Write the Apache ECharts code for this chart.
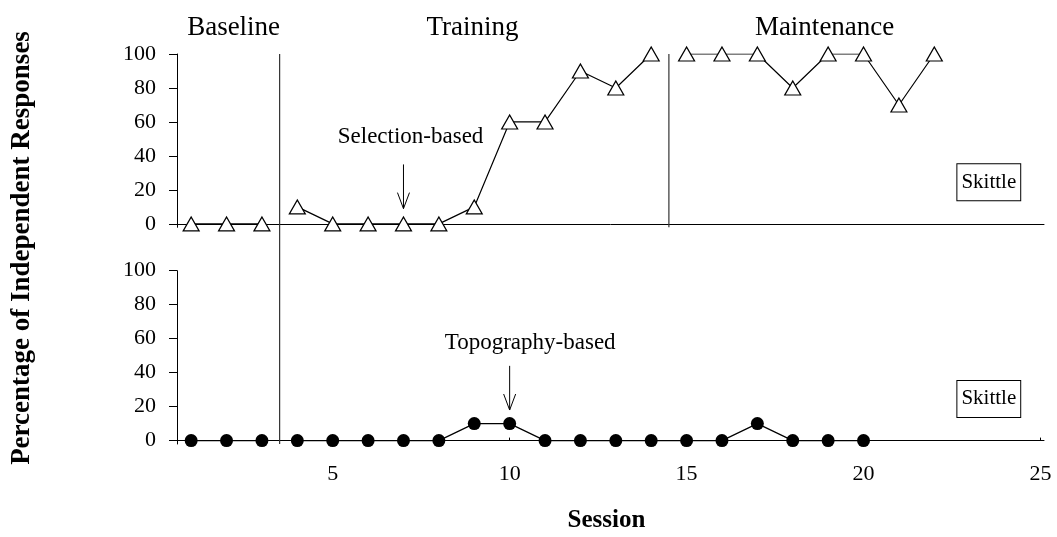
<!DOCTYPE html>
<html><head><meta charset="utf-8">
<script src="https://cdn.jsdelivr.net/npm/echarts@6/dist/echarts.min.js"></script>
<style>html,body{margin:0;padding:0;background:#fff}#c{width:1057px;height:537px}</style>
</head><body><div id="c"></div>
<script>
// ---- data ----
const sessions = [1,2,3,4,5,6,7,8,9,10,11,12,13,14,15,16,17,18,19,20,21,22];
const selection = [0,0,0,10,0,0,0,0,10,60,60,90,80,100,100,100,100,80,100,100,70,100];
const topography = [0,0,0,0,0,0,0,0,10,10,0,0,0,0,0,0,10,0,0,0];
const topPhases = [[1,3],[4,14],[15,22]];
const bottomPhases = [[1,3],[4,20]];
const phaseChanges = [3.5, 14.5];
const phaseNames = ['Baseline','Training','Maintenance'];
const phaseLabelX = [2.2, 8.95, 18.9];
const yTicks = [0,20,40,60,80,100];
const xTicks = [5,10,15,20,25];
const yTitle = 'Percentage of Independent Responses';
const xTitle = 'Session';
const panelLabel = 'Skittle';
const topArrow = {label:'Selection-based', labelAt:[7.2, 51], from:[7, 35], to:[7, 9]};
const bottomArrow = {label:'Topography-based', labelAt:[10.58, 57.5], from:[10, 44], to:[10, 18]};

const FONT = '"Liberation Serif","Times New Roman",serif';
const chart = echarts.init(document.getElementById('c'));

function seg(values, range){
  const out = [];
  for (let i = 0; i < sessions.length && i < values.length; i++) {
    const s = sessions[i];
    if (s >= range[0] && s <= range[1]) out.push([s, values[i]]);
  }
  return out;
}

const gridL = 177, gridW = 867;
const xAxisBase = {
  type:'value', min:0.6, max:25.1,
  axisLine:{show:true, lineStyle:{color:'#000', width:1}},
  splitLine:{show:false},
};
const yAxisBase = {
  type:'value', min:-2, max:100,
  axisLine:{show:true, lineStyle:{color:'#000', width:1}},
  axisTick:{show:true, inside:false, length:8, customValues:yTicks, lineStyle:{color:'#000'}},
  axisLabel:{customValues:yTicks, color:'#000', fontFamily:FONT, fontSize:22, margin:21},
  splitLine:{show:false},
};

const series = [];
topPhases.forEach(r => series.push({
  type:'line', xAxisIndex:0, yAxisIndex:0, data:seg(selection, r),
  symbol:'triangle', symbolSize:[16,14], showSymbol:true,
  lineStyle:{color:'#000', width:1.2},
  itemStyle:{color:'#fff', borderColor:'#000', borderWidth:1.2},
  z:3, animation:false, silent:true
}));
bottomPhases.forEach(r => series.push({
  type:'line', xAxisIndex:1, yAxisIndex:1, data:seg(topography, r),
  symbol:'circle', symbolSize:13, showSymbol:true,
  lineStyle:{color:'#000', width:1.2},
  itemStyle:{color:'#000', borderColor:'#000', borderWidth:0},
  z:3, animation:false, silent:true
}));

chart.setOption({
  animation:false,
  backgroundColor:'#fff',
  grid:[
    {left:gridL, width:gridW, top:54, height:173.3, outerBoundsMode:'none', containLabel:false},
    {left:gridL, width:gridW, top:270.7, height:173.3, outerBoundsMode:'none', containLabel:false}
  ],
  xAxis:[
    Object.assign({}, xAxisBase, {gridIndex:0, axisTick:{show:false}, axisLabel:{show:false}}),
    Object.assign({}, xAxisBase, {gridIndex:1,
      axisTick:{show:true, inside:true, length:3, customValues:xTicks, lineStyle:{color:'#000'}},
      axisLabel:{customValues:xTicks, color:'#000', fontFamily:FONT, fontSize:22, margin:19}})
  ],
  yAxis:[
    Object.assign({}, yAxisBase, {gridIndex:0}),
    Object.assign({}, yAxisBase, {gridIndex:1})
  ],
  series:series
});

function px(gi, v){ return chart.convertToPixel({gridIndex:gi}, v); }
const g = [];
function txt(x, y, text, size, bold, extra){
  return Object.assign({type:'text', x:x, y:y, z:10, silent:true,
    style:{text:text, font:(bold?'bold ':'')+size+'px '+FONT, fill:'#000',
      align:'center', verticalAlign:'middle', textAlign:'center', textVerticalAlign:'middle'}}, extra||{});
}
// phase change lines
{
  const a = px(0,[phaseChanges[0],100]), b = px(1,[phaseChanges[0],-2]);
  g.push({type:'line', z:5, silent:true, shape:{x1:a[0],y1:a[1],x2:b[0],y2:b[1]}, style:{stroke:'#333', lineWidth:1.2}});
  const c = px(0,[phaseChanges[1],100]), d = px(0,[phaseChanges[1],-2]);
  g.push({type:'line', z:5, silent:true, shape:{x1:c[0],y1:c[1],x2:d[0],y2:d[1]}, style:{stroke:'#333', lineWidth:1.2}});
}
// phase names
phaseNames.forEach((n,i) => {
  const p = px(0,[phaseLabelX[i],100]);
  g.push(txt(p[0], 28, n, 27, false));
});
// arrows
[[0,topArrow],[1,bottomArrow]].forEach(([gi,a]) => {
  const lp = px(gi, a.labelAt);
  g.push(txt(lp[0], lp[1], a.label, 23, false));
  const f = px(gi, a.from), t = px(gi, a.to);
  g.push({type:'line', z:6, silent:true, shape:{x1:f[0],y1:f[1],x2:t[0],y2:t[1]}, style:{stroke:'#000', lineWidth:1}});
  g.push({type:'polyline', z:6, silent:true, shape:{points:[[t[0]-6,t[1]-16],[t[0],t[1]],[t[0]+6,t[1]-16]]}, style:{stroke:'#000', lineWidth:1, fill:null}});
});
// Skittle boxes
[0,1].forEach(gi => {
  const p = px(gi, [23.54, 24.5]);
  g.push({type:'text', x:p[0], y:p[1], z:10, silent:true,
    style:{text:panelLabel, font:'21px '+FONT, fill:'#000', align:'center', verticalAlign:'middle',
      textAlign:'center', textVerticalAlign:'middle',
      borderColor:'#000', borderWidth:1, padding:[6,4,6,4], lineHeight:24, backgroundColor:'#fff'}});
});
// axis titles
g.push(txt(22, 248, yTitle, 27, true, {rotation:Math.PI/2}));
{
  const a = px(1,[0.6,0]), b = px(1,[25.1,0]);
  g.push(txt((a[0]+b[0])/2 - 4, 521, xTitle, 25, true));
}
chart.setOption({graphic:g});
</script>
</body></html>
